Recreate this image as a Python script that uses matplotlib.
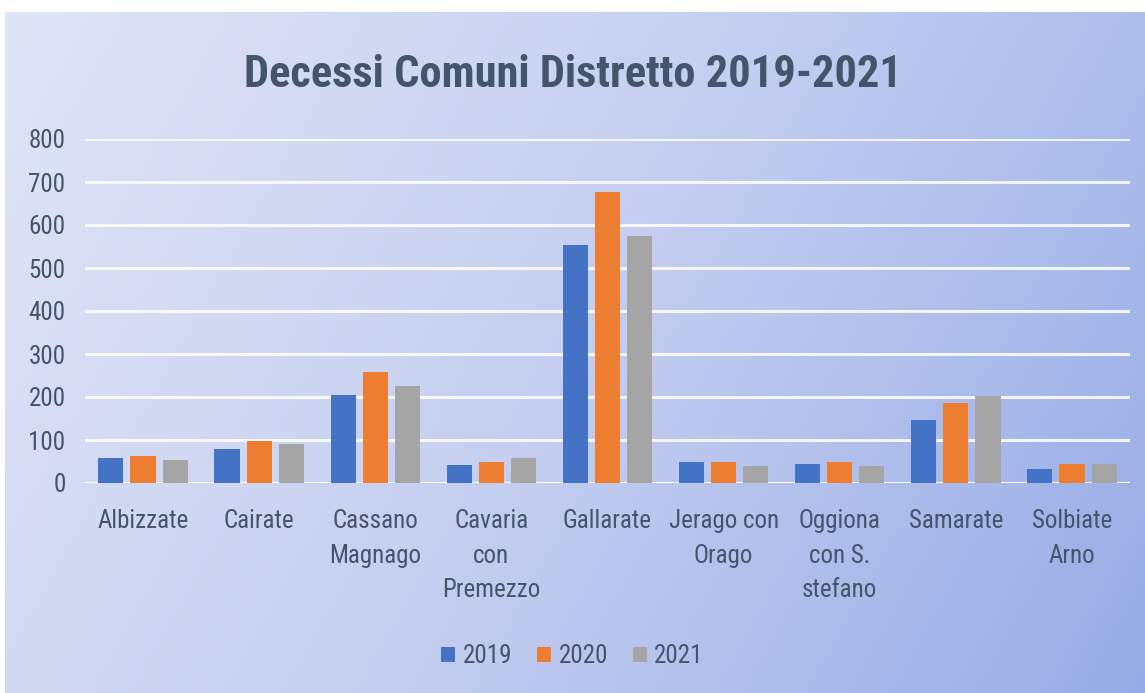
import numpy as np
import matplotlib.pyplot as plt
from matplotlib import font_manager
from matplotlib.colors import LinearSegmentedColormap

comuni = ["Albizzate", "Cairate", "Cassano\nMagnago", "Cavaria\ncon\nPremezzo",
          "Gallarate", "Jerago con\nOrago", "Oggiona\ncon S.\nstefano",
          "Samarate", "Solbiate\nArno"]
anni = ["2019", "2020", "2021"]
d2019 = [58, 80, 204, 41, 553, 50, 44, 147, 33]
d2020 = [62, 98, 257, 50, 677, 48, 48, 186, 44]
d2021 = [54, 91, 226, 58, 574, 39, 40, 202, 44]
colori = ["#4472c4", "#ed7d31", "#a5a5a5"]

# font stretto tipo Calibri, se disponibile
installati = {f.name for f in font_manager.fontManager.ttflist}
scelta = "DejaVu Sans"
for nome in ["Liberation Sans Narrow", "Roboto Condensed", "Open Sans Condensed", "Lato", "Liberation Sans"]:
    if nome in installati:
        scelta = nome
        break
font = [scelta, "DejaVu Sans"]
testo = "#44546a"

px = 1/100
fig = plt.figure(figsize=(1145*px, 693*px), dpi=100)
fig.patch.set_facecolor("white")

# sfondo sfumato
bg = fig.add_axes([5/1145, 0, 1, 1 - 12/693])
bg.set_zorder(-10)
h, w = 200, 330
yy, xx = np.mgrid[0:h, 0:w]
t = 0.75*xx/w + 0.25*yy/h
cmap = LinearSegmentedColormap.from_list("bg", ["#e0e5f6", "#c4cef0", "#97ace6"])
bg.imshow(t, cmap=cmap, aspect="auto", extent=[0, 1, 0, 1], origin="upper")
bg.axis("off")

ax = fig.add_axes([85/1145, 1 - 483/693, (1130-85)/1145, (483-139)/693])
ax.set_facecolor("none")
x = np.arange(len(comuni))
wb = 0.217
step = 0.277
for i, (serie, c, lab) in enumerate(zip([d2019, d2020, d2021], colori, anni)):
    ax.bar(x + (i-1)*step, serie, width=wb, color=c, label=lab, zorder=3)

ax.set_ylim(0, 800)
ax.set_xlim(-0.5, len(comuni) - 0.5)
ax.set_yticks(range(0, 801, 100))
ax.yaxis.grid(True, color="white", linewidth=2.2, alpha=0.85, zorder=0)
ax.set_axisbelow(True)
for s in ax.spines.values():
    s.set_visible(False)
ax.axhline(0, color="white", linewidth=2.2, alpha=0.9, zorder=2)
ax.set_xticks(x)
ax.set_xticklabels(comuni, fontfamily=font, fontsize=18, color=testo, linespacing=1.55)
for lbl in ax.get_yticklabels():
    lbl.set_fontfamily(font)
    lbl.set_fontsize(18)
    lbl.set_color(testo)
ax.tick_params(axis="both", length=0)
ax.tick_params(axis="y", pad=14)
ax.tick_params(axis="x", pad=19)

fig.text(0.5, 1 - 75/693, "Decessi Comuni Distretto 2019-2021", ha="center", va="center",
         fontfamily=font, fontsize=32, fontweight="bold", color=testo)

fig.legend(loc="center", bbox_to_anchor=(0.5, 1 - 656/693), ncol=3, frameon=False,
           prop={"family": font, "size": 18}, handlelength=0.55, handleheight=0.55,
           handletextpad=0.3, columnspacing=1.0, labelcolor=testo)

plt.savefig("out.png", dpi=100)
